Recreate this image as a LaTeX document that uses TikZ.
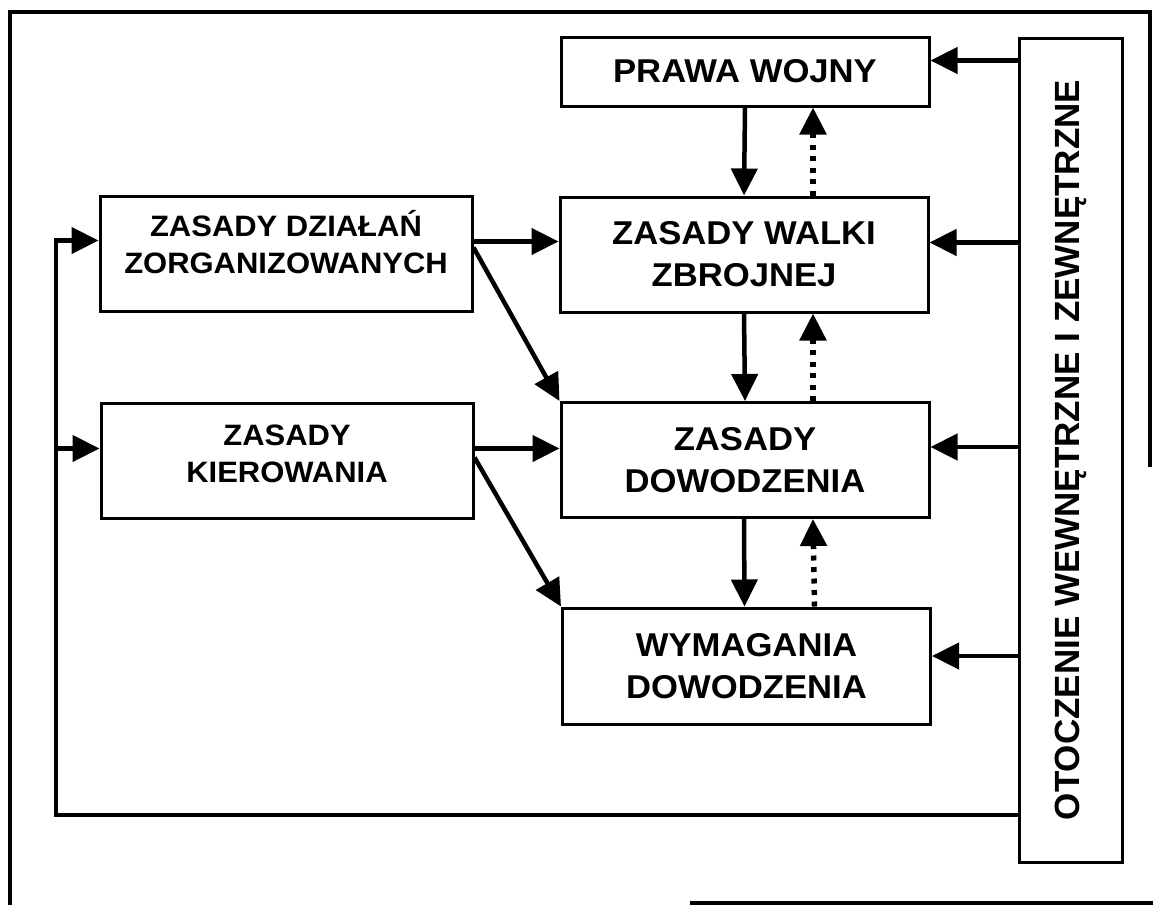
\documentclass[tikz,border=0pt]{standalone}
\usepackage{fontspec}
\setmainfont{Liberation Sans}[FakeStretch=1.05]
\newfontfamily\sidefont{Liberation Sans}
\usetikzlibrary{arrows.meta}

\begin{document}
\begin{tikzpicture}[x=1pt,y=-1pt]
			\tikzset{box/.style = {shape=rectangle,draw,line width=3pt,inner sep=0pt,align=center,
				minimum width=368pt,minimum height=115pt,font=\fontsize{33}{42}\selectfont\bfseries}}
			\tikzset{leftbox/.style = {box,minimum width=372pt,text depth=24pt,font=\fontsize{29.5}{37}\selectfont\bfseries}}
			\tikzset{edge/.style = {-{Triangle[length=27pt,width=26pt]},line width=4.5pt}}
			\tikzset{back/.style = {edge,line width=5.5pt,dash pattern=on 5pt off 6.5pt}}
			\tikzset{frame/.style = {line width=4pt}}
			\useasboundingbox (0,0) rectangle (1153,905);
			% frame
			\draw[frame] (1150,467) -- (1150,12) -- (10,12) -- (10,905);
			\draw[frame] (690,903) -- (1153,903);
			% vertices
			\node[box,minimum height=69pt] (prawa) at (745,71.5) {PRAWA WOJNY};
			\node[box] (walki) at (744,254.5) {ZASADY WALKI\\ZBROJNEJ};
			\node[box] (dow) at (745,460) {ZASADY\\DOWODZENIA};
			\node[box,minimum height=116pt] (wym) at (746.5,666) {WYMAGANIA\\DOWODZENIA};
			\node[leftbox] (dzial) at (286,253.5) {ZASADY DZIAŁAŃ\\ZORGANIZOWANYCH};
			\node[leftbox,text depth=14pt] (kier) at (287,460.5) {ZASADY\\KIEROWANIA};
			\node[box,minimum width=103pt,minimum height=824pt] (otocz) at (1070.5,450) {};
			\node[rotate=90,font=\fontsize{35}{40}\sidefont\bfseries] at (otocz) {OTOCZENIE WEWNĘTRZNE I ZEWNĘTRZNE};
			\coordinate (loop) at (56,815);
			\coordinate (dzialin) at ([yshift=13pt]dzial.west);
			\coordinate (kierin) at ([yshift=12pt]kier.west);
			% edges
			\draw[edge] (prawa.south) -- (walki.north);
			\draw[edge] (walki.south) -- (dow.north);
			\draw[edge] ([xshift=-1pt]dow.south) -- ([xshift=-2pt]wym.north);
			\draw[back] ([xshift=69pt]walki.north) -- ([xshift=68pt]prawa.south);
			\draw[back] ([xshift=68pt]dow.north) -- ([xshift=69pt]walki.south);
			\draw[back] ([xshift=68pt]wym.north) -- ([xshift=68pt]dow.south);
			\draw[edge] ([yshift=11pt]otocz.west |- prawa.east) -- ([yshift=11pt]prawa.east);
			\draw[edge] ([yshift=12pt]otocz.west |- walki.east) -- ([yshift=12pt]walki.east);
			\draw[edge] ([yshift=13pt]otocz.west |- dow.east) -- ([yshift=13pt]dow.east);
			\draw[edge] ([yshift=10pt]otocz.west |- wym.east) -- ([yshift=10pt]wym.east);
			\draw[edge] ([yshift=12pt]dzial.east) -- ([yshift=12pt]dzial.east -| walki.west);
			\draw[edge] ([yshift=12pt]kier.east) -- ([yshift=12pt]kier.east -| dow.west);
			\draw[edge] ([yshift=6pt]dzial.east) -- (dow.north west);
			\draw[edge] ([yshift=3pt]kier.east) -- (wym.north west);
			\draw[edge] (otocz.west |- loop) -- (loop) |- (dzialin);
			\draw[edge] (loop |- kierin) -- (kierin);
\end{tikzpicture}
\end{document}
